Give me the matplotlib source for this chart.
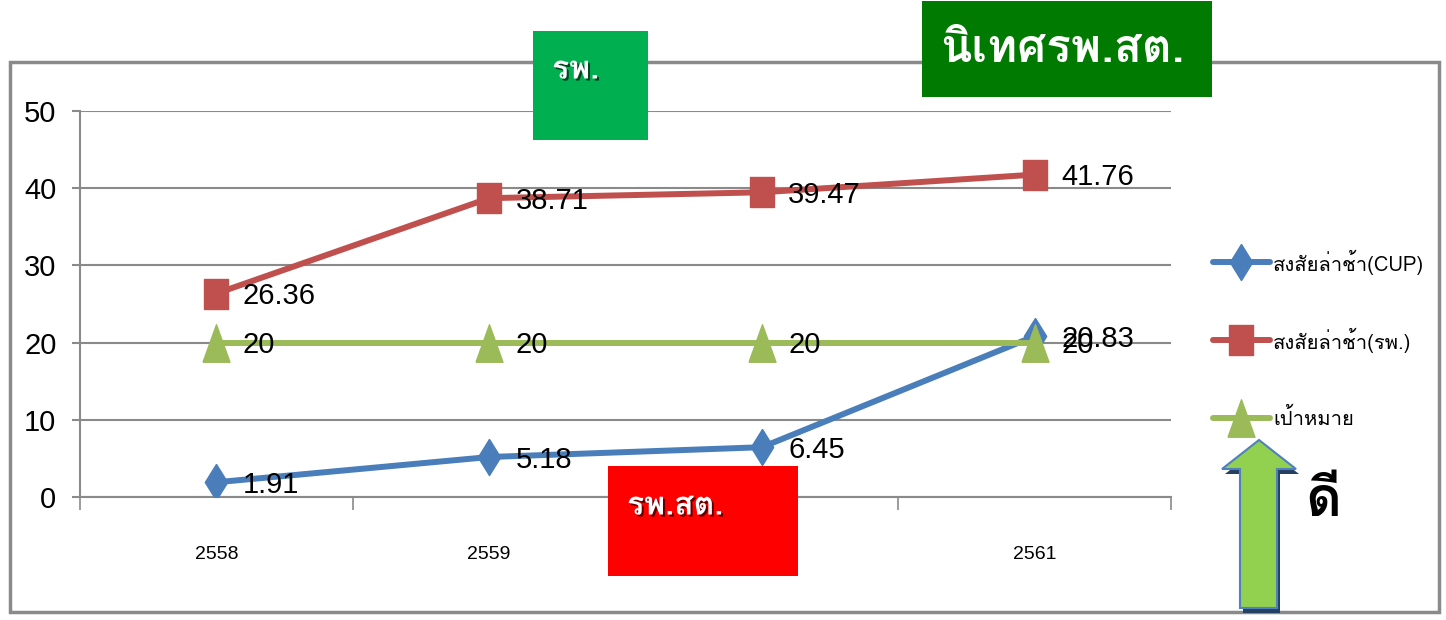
import matplotlib
matplotlib.use("Agg")
import matplotlib.pyplot as plt
from matplotlib import font_manager
from matplotlib.ft2font import FT2Font
from matplotlib.patches import Rectangle, Polygon
import matplotlib.patheffects as pe

# ---- data -------------------------------------------------------------
years = ["2558", "2559", "2560", "2561"]
cup_values = [1.91, 5.18, 6.45, 20.83]
hosp_values = [26.36, 38.71, 39.47, 41.76]
target_values = [20, 20, 20, 20]
series_names = ["สงสัยล่าช้า(CUP)", "สงสัยล่าช้า(รพ.)", "เป้าหมาย"]
y_ticks = [0, 10, 20, 30, 40, 50]


def font_with(char):
    """Return the name of an installed family that has a glyph for char."""
    for f in font_manager.fontManager.ttflist:
        try:
            if FT2Font(f.fname).get_char_index(ord(char)):
                return f.name
        except Exception:
            pass
    return "DejaVu Sans"


THAI = [font_with("ส"), "DejaVu Sans"]
NUM = ["Liberation Sans", "DejaVu Sans"]

GRAY = "#8a8a8a"
BLUE = "#4A7EBB"
RED = "#C0504D"
GREEN = "#9BBB59"

W, H = 1446, 620
fig = plt.figure(figsize=(W / 100, H / 100), dpi=100)
fig.patch.set_facecolor("white")

# plot area in pixel terms
left, right, top, bottom = 80, 1171, 111, 497
ax = fig.add_axes([left / W, 1 - bottom / H, (right - left) / W, (bottom - top) / H])
ax.set_xlim(-0.5, len(years) - 0.5)
ax.set_ylim(0, 50)
for s in ("top", "right"):
    ax.spines[s].set_visible(False)
for s in ("left", "bottom"):
    ax.spines[s].set_color(GRAY)
    ax.spines[s].set_linewidth(1.5)

ax.set_yticks(y_ticks)
ax.set_yticklabels([str(v) for v in y_ticks], family=NUM, fontsize=21)
ax.tick_params(axis="y", direction="out", length=6, width=1.5, color=GRAY, pad=11)
ax.yaxis.grid(True, color=GRAY, linewidth=1.5)
ax.set_axisbelow(True)

xs = list(range(len(years)))
ax.set_xticks(xs)
ax.set_xticklabels(years, family=NUM, fontsize=14)
ax.set_xticks([i - 0.5 for i in range(len(years) + 1)], minor=True)
ax.tick_params(axis="x", which="major", length=0, pad=35)
ax.tick_params(axis="x", which="minor", direction="out", length=9.5, width=1.2, color=GRAY)

diamond = [(0, 1), (0.62, 0), (0, -1), (-0.62, 0), (0, 1)]
rect = [(-0.8, -1), (0.8, -1), (0.8, 1), (-0.8, 1), (-0.8, -1)]
tri = [(-0.72, -1), (0.72, -1), (0, 1), (-0.72, -1)]

styles = [
    (cup_values, BLUE, diamond, 26),
    (hosp_values, RED, rect, 22),
    (target_values, GREEN, tri, 27),
]

for vals, col, mk, ms in styles:
    ax.plot(xs, vals, color=col, lw=4.3, marker=mk, ms=ms, mfc=col, mec=col,
            zorder=3)

for vals, *_ in styles:
    for x, v in zip(xs, vals):
        ax.annotate(f"{v:g}", (x, v), xytext=(19, -2), textcoords="offset points",
                    ha="left", va="center", family=NUM, fontsize=21,
                    color="black", zorder=4)

# ---- overlay in pixel coordinates ---------------------------------
ov = fig.add_axes([0, 0, 1, 1], zorder=10)
ov.set_xlim(0, W)
ov.set_ylim(H, 0)
ov.axis("off")
ov.patch.set_alpha(0)

# legend entries
for (vals, col, mk, ms), name, ly in zip(styles, series_names, (262, 340, 418)):
    ov.plot([1213, 1241, 1270], [ly, ly, ly], color=col, lw=4.3, marker=mk,
            ms=ms, markevery=[1], mfc=col, mec=col, solid_capstyle="round")
    ov.text(1273, ly, name, family=THAI, fontsize=14.5, ha="left",
            va="center", color="black")

ov.add_patch(Rectangle((10, 62), 1429, 550, fill=False, edgecolor=GRAY, lw=2.5))

shadow = [pe.SimplePatchShadow(offset=(1.5, -1.5), shadow_rgbFace="black", alpha=0.6),
          pe.Normal()]

ov.add_patch(Rectangle((533, 31), 115, 109, facecolor="#00B050", edgecolor="none"))
ov.text(552, 70, "รพ.", color="white", fontsize=23, fontweight="bold",
        family=THAI, ha="left", va="center", path_effects=shadow)

ov.add_patch(Rectangle((922, 1), 290, 96, facecolor="#007A00", edgecolor="none"))
ov.text(940, 50, "นิเทศรพ.สต.", color="white", fontsize=33, fontweight="bold",
        family=THAI, ha="left", va="center")

ov.add_patch(Rectangle((608, 466), 190, 110, facecolor="#FF0000", edgecolor="none"))
ov.text(627, 506, "รพ.สต.", color="white", fontsize=23, fontweight="bold",
        family=THAI, ha="left", va="center", path_effects=shadow)

arrow = [(1259, 440), (1296, 469), (1277, 469), (1277, 608),
         (1240, 608), (1240, 469), (1222, 469)]
ov.add_patch(Polygon([(x + 3, y + 5) for x, y in arrow], closed=True,
                     facecolor="#254061", edgecolor="none"))
ov.add_patch(Polygon(arrow, closed=True, facecolor="#92D050",
                     edgecolor="#4F81BD", lw=1.5))

ov.text(1305, 502, "ดี", color="black", fontsize=40, fontweight="bold",
        family=THAI, ha="left", va="center")

fig.savefig("out.png", dpi=100, facecolor="white")
